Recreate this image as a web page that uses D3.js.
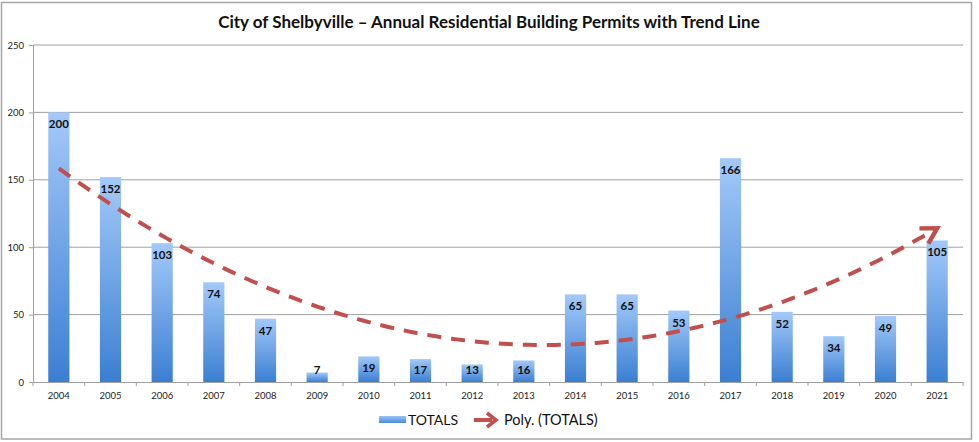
<!DOCTYPE html>
<html><head><meta charset="utf-8">
<script src="https://cdn.jsdelivr.net/npm/d3@7/dist/d3.min.js"></script>
<style>
body{margin:0;background:#fff;}
svg{display:block;font-family:Lato, "Open Sans", sans-serif;}
</style></head>
<body><svg id="c" width="979" height="442"></svg>
<script>
const years = ["2004","2005","2006","2007","2008","2009","2010","2011","2012","2013","2014","2015","2016","2017","2018","2019","2020","2021"];
const totals = [200,152,103,74,47,7,19,17,13,16,65,65,53,166,52,34,49,105];
const yTicks = [0,50,100,150,200,250];
const title = "City of Shelbyville \u2013 Annual Residential Building Permits with Trend Line";
const seriesName = "TOTALS";
const trendName = "Poly. (TOTALS)";

(function(){
const svg = d3.select("#c");
const pL = 33, pR = 963, pT = 45, pB = 382;

svg.append("rect").attr("x",1.5).attr("y",2.5).attr("width",970).attr("height",436.5)
  .attr("fill","#fff").attr("stroke","#a6a6a6").attr("stroke-width",1.5);

const defs = svg.append("defs");
const grad = defs.append("linearGradient").attr("id","barGrad").attr("x1",0).attr("y1",0).attr("x2",0).attr("y2",1);
grad.append("stop").attr("offset","0%").attr("stop-color","#a3c9f9");
grad.append("stop").attr("offset","100%").attr("stop-color","#3b7fd2");
const lgrad = defs.append("linearGradient").attr("id","legGrad").attr("x1",0).attr("y1",0).attr("x2",0).attr("y2",1);
lgrad.append("stop").attr("offset","0%").attr("stop-color","#9cc4f6");
lgrad.append("stop").attr("offset","100%").attr("stop-color","#4a8ad6");

defs.append("marker").attr("id","arrow").attr("viewBox","0 0 10 10").attr("refX",8).attr("refY",5)
  .attr("markerWidth",5.5).attr("markerHeight",5.5).attr("orient","auto").attr("markerUnits","strokeWidth")
  .append("path").attr("d","M1,1 L8,5 L1,9").attr("fill","none").attr("stroke","#c0504d").attr("stroke-width",2);

const x = d3.scaleBand().domain(years).range([pL,pR]).padding(0);
const y = d3.scaleLinear().domain([0,250]).range([pB,pT]);

svg.append("g").selectAll("line").data(yTicks.filter(d=>d>0)).join("line")
  .attr("x1",pL).attr("x2",pR).attr("y1",d=>y(d)).attr("y2",d=>y(d))
  .attr("stroke","#a0a0a0").attr("stroke-width",1);

const yAxis = svg.append("g").attr("transform",`translate(${pL},0)`)
  .call(d3.axisLeft(y).tickValues(yTicks).tickSize(4).tickPadding(5));
yAxis.select(".domain").attr("stroke","#a0a0a0");
yAxis.selectAll(".tick line").attr("stroke","#a0a0a0");
yAxis.selectAll("text").attr("font-size",9.5).attr("fill","#222").attr("font-family","Lato, sans-serif");

const xAxis = svg.append("g").attr("transform",`translate(0,${pB})`)
  .call(d3.axisBottom(x).tickSize(0).tickPadding(10));
xAxis.select(".domain").attr("stroke","#a0a0a0");
xAxis.selectAll("text").attr("font-size",9.5).attr("fill","#222").attr("font-family","Lato, sans-serif");
svg.append("g").selectAll("line").data(years.concat(["end"])).join("line")
  .attr("x1",(d,i)=>pL+i*x.step()).attr("x2",(d,i)=>pL+i*x.step())
  .attr("y1",pB).attr("y2",pB+4).attr("stroke","#a0a0a0");

const bw = x.bandwidth()*0.41;
svg.append("g").selectAll("rect").data(totals).join("rect")
  .attr("x",(d,i)=>x(years[i])+x.bandwidth()/2-bw/2)
  .attr("y",d=>y(d)).attr("width",bw).attr("height",d=>pB-y(d))
  .attr("fill","url(#barGrad)");

svg.append("g").selectAll("text").data(totals).join("text")
  .attr("x",(d,i)=>x(years[i])+x.bandwidth()/2)
  .attr("y",d=>Math.min(y(d)+16, pB-8))
  .attr("text-anchor","middle").attr("font-size",11.5).attr("font-weight","bold").attr("fill","#111")
  .text(d=>d);

// polynomial (order 2) least-squares trend of TOTALS
const n = totals.length;
const xs = totals.map((d,i)=>i+1);
const xm = d3.mean(xs);
const u = xs.map(v=>v-xm);
const S2 = d3.sum(u,v=>v*v), S4 = d3.sum(u,v=>v**4);
const Sy = d3.sum(totals), Suy = d3.sum(u.map((v,i)=>v*totals[i])), Su2y = d3.sum(u.map((v,i)=>v*v*totals[i]));
const b = Suy/S2;
const c = (Su2y - S2*Sy/n)/(S4 - S2*S2/n);
const a = (Sy - c*S2)/n;
const trend = d3.range(0, n-1+0.001, 0.1).map(t=>{const uu = t+1-xm; return [t, a+b*uu+c*uu*uu];});
const tx = t => x(years[0]) + x.bandwidth()/2 + t*x.step();
svg.append("path").datum(trend)
  .attr("d", d3.line().x(d=>tx(d[0])).y(d=>y(d[1])))
  .attr("fill","none").attr("stroke","#c0504d").attr("stroke-width",4)
  .attr("stroke-dasharray","14,10").attr("marker-end","url(#arrow)");

svg.append("text").attr("x",489).attr("y",28).attr("text-anchor","middle")
  .attr("font-size",17).attr("font-weight","bold").attr("fill","#111").text(title);

const lg = svg.append("g");
lg.append("rect").attr("x",379).attr("y",416).attr("width",27).attr("height",7).attr("fill","url(#legGrad)");
lg.append("text").attr("x",408).attr("y",425).attr("font-size",14).attr("fill","#111").text(seriesName);
lg.append("line").attr("x1",474).attr("x2",492).attr("y1",420).attr("y2",420).attr("stroke","#c0504d").attr("stroke-width",4);
lg.append("path").attr("d","M487,413 L496,420 L487,427").attr("fill","none").attr("stroke","#c0504d").attr("stroke-width",3.5);
lg.append("text").attr("x",504).attr("y",425).attr("font-size",14.5).attr("fill","#111").text(trendName);
})();
</script></body></html>
